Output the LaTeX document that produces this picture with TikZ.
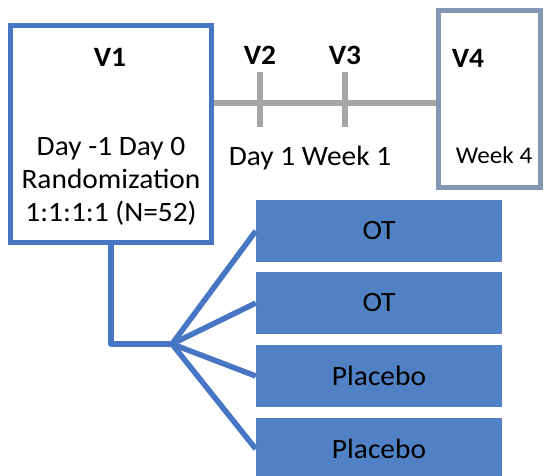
\documentclass[tikz,border=0pt]{standalone}
\usepackage{fontspec}
\setmainfont{Carlito}[FakeStretch=1.05]
\definecolor{visitblue}{RGB}{70,118,196}
\definecolor{armblue}{RGB}{79,129,196}
\definecolor{endgrey}{RGB}{132,151,181}
\definecolor{linegrey}{RGB}{166,166,166}

\begin{document}
\begin{tikzpicture}[x=1pt,y=-1pt,
	txt/.style={inner sep=0pt,font=\fontsize{28}{33}\selectfont},
	vlbl/.style={inner sep=0pt,font=\fontsize{28}{33}\selectfont\bfseries},
	visitbox/.style={draw=visitblue,line width=5.5pt,fill=white,inner sep=0pt},
	armbox/.style={fill=armblue,minimum width=246pt,minimum height=62pt,inner sep=0pt,font=\fontsize{28}{33}\selectfont},
	tl/.style={draw=linegrey,line width=6pt},
	arm/.style={draw=visitblue,line width=5.5pt,line join=round}]
	\useasboundingbox (0,0) rectangle (544,475);
	
	% Hộp V1
	\node[visitbox,minimum width=201pt,minimum height=217pt] (v1) at (111,134) {};
	\node[vlbl] (lv1) at (110,57) {V1};
	\node[txt,align=center] (dv1) at (111,181) {Day -1 Day 0\\Randomization\\1:1:1:1 (N=52)};
	
	% Hộp V4
	\node[visitbox,draw=endgrey,minimum width=102pt,minimum height=177pt] (v4) at (489.5,99) {};
	\node[vlbl] (lv4) at (468,58) {V4};
	\node[txt,font=\fontsize{24}{28}\selectfont] (dv4) at (494,155) {Week 4};
	
	% Trục thời gian
	\coordinate (tl) at (0,103);
	\draw[tl] (v1.east |- tl) -- (v4.west |- tl);
	\coordinate (t2) at (260,72);
	\coordinate (t3) at (345,72);
	\draw[tl] (t2) -- ++(0,55);
	\draw[tl] (t3) -- ++(0,55);
	\node[vlbl] (lv2) at (260,55) {V2};
	\node[vlbl] (lv3) at (345,55) {V3};
	\node[txt] (dv23) at (310,158) {Day 1 Week 1};
	
	% Các nhóm điều trị
	\node[armbox] (a1) at (379,231) {OT};
	\node[armbox] (a2) at (379,303) {OT};
	\node[armbox] (a3) at (379,376) {Placebo};
	\node[armbox] (a4) at (379,449) {Placebo};
	
	% Nhánh phân nhóm
	\coordinate (hub) at (172,344);
	\draw[arm] (v1.south) |- (hub);
	\draw[arm] (hub) -- (a1.west);
	\draw[arm] (hub) -- (a2.west);
	\draw[arm] (hub) -- (a3.west);
	\draw[arm] (hub) -- (a4.west);
\end{tikzpicture}
\end{document}
